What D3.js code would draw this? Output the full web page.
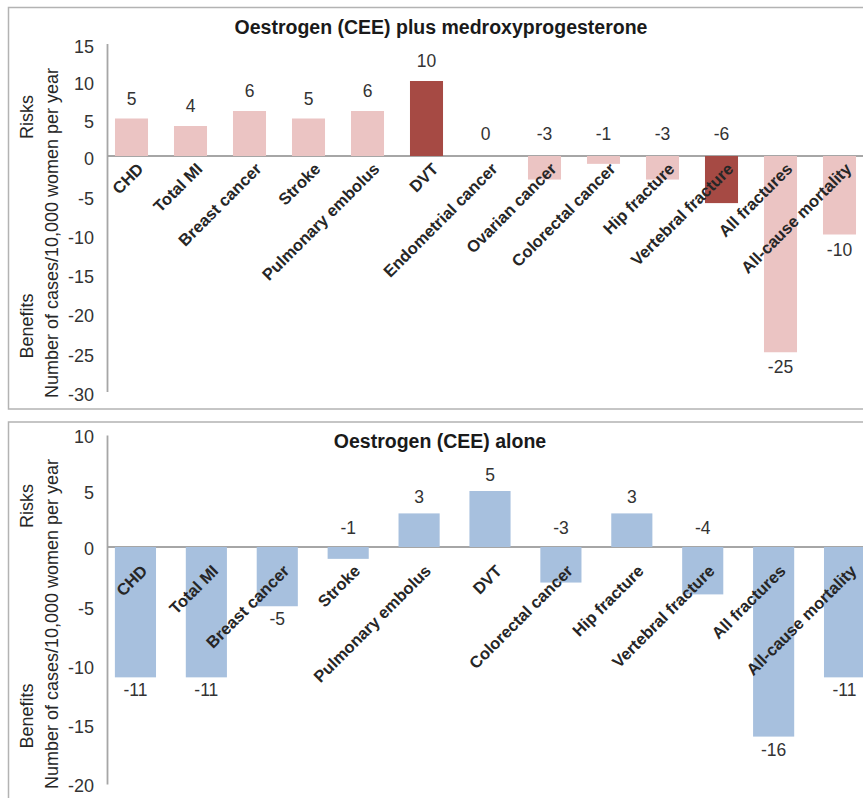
<!DOCTYPE html>
<html>
<head>
<meta charset="utf-8">
<script src="https://cdn.jsdelivr.net/npm/d3@7"></script>
<style>
  body { margin: 0; background: #ffffff; }
  svg { display: block; }
</style>
</head>
<body>
<svg id="chart" width="863" height="798"></svg>
<script>
// ---------- Data ----------
const epTitle = "Oestrogen (CEE) plus medroxyprogesterone";
const epCategories = ["CHD", "Total MI", "Breast cancer", "Stroke", "Pulmonary embolus", "DVT",
  "Endometrial cancer", "Ovarian cancer", "Colorectal cancer", "Hip fracture",
  "Vertebral fracture", "All fractures", "All-cause mortality"];
const epValues = [5, 4, 6, 5, 6, 10, 0, -3, -1, -3, -6, -25, -10];
const epHighlighted = ["DVT", "Vertebral fracture"];
const epTicks = [15, 10, 5, 0, -5, -10, -15, -20, -25, -30];

const ceeTitle = "Oestrogen (CEE) alone";
const ceeCategories = ["CHD", "Total MI", "Breast cancer", "Stroke", "Pulmonary embolus", "DVT",
  "Colorectal cancer", "Hip fracture", "Vertebral fracture", "All fractures", "All-cause mortality"];
const ceeValues = [-11, -11, -5, -1, 3, 5, -3, 3, -4, -16, -11];
const ceeHighlighted = [];
const ceeTicks = [10, 5, 0, -5, -10, -15, -20];

const axisTitleRisks = "Risks";
const axisTitleBenefits = "Benefits";
const axisTitleUnits = "Number of cases/10,000 women per year";

// ---------- Drawing ----------
const FONT = "'Liberation Sans', Arial, Helvetica, sans-serif";
const svg = d3.select("#chart");
svg.append("rect").attr("width", 863).attr("height", 798).attr("fill", "#ffffff");

function drawPanel(cfg) {
  const g = svg.append("g");

  // panel frame
  g.append("rect")
    .attr("x", 8.5).attr("y", cfg.frame[0])
    .attr("width", 880).attr("height", cfg.frame[1] - cfg.frame[0])
    .attr("fill", "none").attr("stroke", "#b3b3b3").attr("stroke-width", 1.5);

  const x = d3.scaleBand()
    .domain(cfg.categories)
    .range(cfg.xRange)
    .paddingInner(cfg.padInner)
    .paddingOuter(cfg.padInner / 2);

  const y = d3.scaleLinear().domain(cfg.yDomain).range(cfg.yRange);
  const axisX = 107;

  // zero line
  g.append("line")
    .attr("x1", axisX).attr("x2", 870)
    .attr("y1", y(0)).attr("y2", y(0))
    .attr("stroke", "#a6a6a6").attr("stroke-width", 1.8);

  const data = cfg.categories.map((c, i) => ({ c, v: cfg.values[i] }));

  // bars
  g.selectAll("rect.bar").data(data).enter().append("rect")
    .attr("class", "bar")
    .attr("x", d => x(d.c))
    .attr("width", x.bandwidth())
    .attr("y", d => Math.min(y(d.v), y(0)))
    .attr("height", d => Math.abs(y(d.v) - y(0)))
    .attr("fill", d => cfg.highlighted.includes(d.c) ? cfg.highlightColor : cfg.color);

  // y axis
  const axis = d3.axisLeft(y)
    .tickValues(cfg.ticks)
    .tickFormat(d => String(d))
    .tickSize(0)
    .tickPadding(13);
  const ag = g.append("g").attr("transform", `translate(${axisX},0)`).call(axis);
  ag.select(".domain").attr("stroke", "#a6a6a6").attr("stroke-width", 1.8);
  ag.selectAll("text")
    .attr("font-family", FONT).attr("font-size", 18).attr("fill", "#333333")
    .attr("y", cfg.tickShift);

  // value labels
  g.selectAll("text.val").data(data).enter().append("text")
    .attr("class", "val")
    .attr("x", d => x(d.c) + x.bandwidth() / 2)
    .attr("y", d => {
      if (d.v > 0) return y(d.v) - cfg.valAbove;
      if (d.v > cfg.belowThreshold) return y(0) - cfg.valAboveZero;
      return y(d.v) + cfg.valBelow;
    })
    .attr("text-anchor", "middle")
    .attr("font-family", FONT).attr("font-size", 17.5).attr("fill", "#333333")
    .text(d => String(d.v));

  // category labels
  g.selectAll("text.cat").data(data).enter().append("text")
    .attr("class", "cat")
    .attr("transform", d => `translate(${x(d.c) + x.bandwidth() / 2 + cfg.catOffset[0]},${y(0) + cfg.catOffset[1]}) rotate(-45)`)
    .attr("text-anchor", "end")
    .attr("font-family", FONT).attr("font-size", 16.5).attr("font-weight", "bold")
    .attr("fill", "#262626")
    .text(d => d.c);

  // title
  g.append("text")
    .attr("x", cfg.titlePos[0]).attr("y", cfg.titlePos[1])
    .attr("text-anchor", "middle")
    .attr("font-family", FONT).attr("font-size", 19.5).attr("font-weight", "bold")
    .attr("fill", "#1a1a1a")
    .text(cfg.title);

  // axis titles
  const at = (txt, cx, cy) => g.append("text")
    .attr("transform", `translate(${cx},${cy}) rotate(-90)`)
    .attr("text-anchor", "middle")
    .attr("font-family", FONT).attr("font-size", 18)
    .attr("fill", "#262626")
    .text(txt);
  at(axisTitleRisks, 33, cfg.risksY);
  at(axisTitleBenefits, 33, cfg.benefitsY);
  at(axisTitleUnits, 58, cfg.unitsY);
}

drawPanel({
  title: epTitle, titlePos: [441, 34],
  categories: epCategories, values: epValues, highlighted: epHighlighted, ticks: epTicks,
  yDomain: [-30, 0, 15], yRange: [391.5, 156, 43.5],
  xRange: [102, 869], padInner: 0.44,
  frame: [7.5, 409],
  color: "#ebc4c3", highlightColor: "#a64a44",
  tickShift: 3,
  valAbove: 14, valAboveZero: 16, valBelow: 21, belowThreshold: -8,
  catOffset: [13, 14],
  risksY: 117, benefitsY: 326, unitsY: 233
});

drawPanel({
  title: ceeTitle, titlePos: [440, 448],
  categories: ceeCategories, values: ceeValues, highlighted: ceeHighlighted, ticks: ceeTicks,
  yDomain: [-20, 0, 10], yRange: [784, 547, 435],
  xRange: [100, 880], padInner: 0.42,
  frame: [422, 830],
  color: "#a7c0de", highlightColor: "#a7c0de",
  tickShift: 2,
  valAbove: 10, valAboveZero: 13, valBelow: 19, belowThreshold: -4.5,
  catOffset: [13, 25],
  risksY: 506, benefitsY: 716, unitsY: 624
});
</script>
</body>
</html>
